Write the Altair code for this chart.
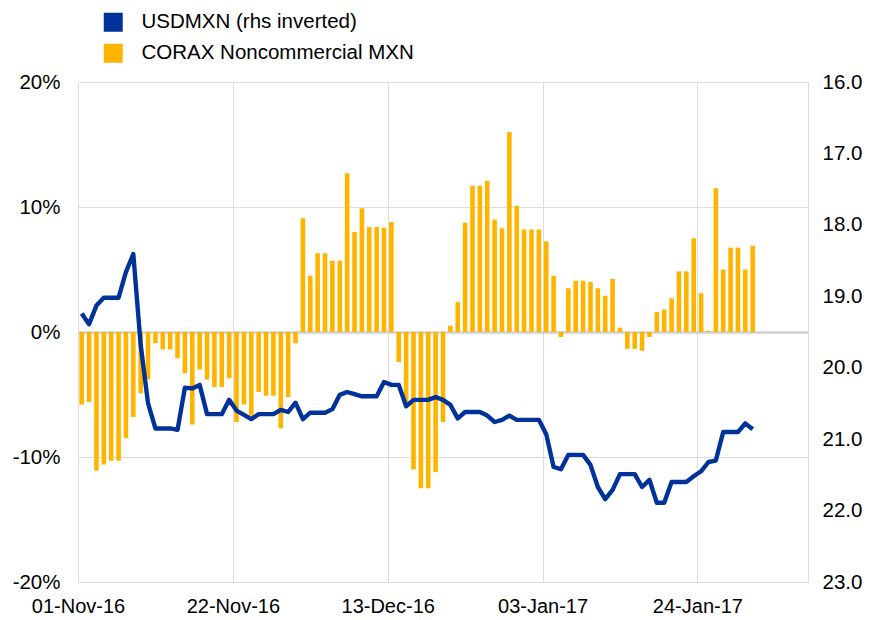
import altair as alt
import pandas as pd

# ---- data ----
start_date = "2016-11-01 12:00"
n_days = 92

corax = [-5.8, -5.6, -11.1, -10.6, -10.3, -10.3, -8.5, -6.8, -4.9, -3.8,
         -0.9, -1.4, -1.4, -2.1, -3.3, -7.4, -3.0, -3.8, -4.4, -4.4,
         -3.7, -7.2, -5.8, -6.7, -4.8, -5.1, -5.1, -7.7, -5.2, -0.9,
         9.1, 4.5, 6.3, 6.3, 5.7, 5.7, 12.7, 8.0, 9.9, 8.4,
         8.4, 8.35, 8.8, -2.4, -5.6, -11.0, -12.5, -12.5, -11.2, -7.2,
         0.5, 2.4, 8.75, 11.7, 11.7, 12.1, 9.0, 8.3, 16.0, 10.1,
         8.2, 8.2, 8.2, 7.25, 4.5, -0.4, 3.5, 4.1, 4.1, 4.0,
         3.5, 2.9, 4.25, 0.35, -1.35, -1.35, -1.5, -0.4, 1.6, 1.8,
         2.7, 4.85, 4.85, 7.5, 3.1, 0.1, 11.5, 5.0, 6.75, 6.75,
         5.0, 6.9]

usdmxn = [19.24, 19.39, 19.13, 19.02, 19.02, 19.02, 18.66, 18.41, 19.68, 20.50,
          20.85, 20.85, 20.85, 20.87, 20.28, 20.29, 20.24, 20.65, 20.65, 20.65,
          20.45, 20.60, 20.66, 20.72, 20.65, 20.65, 20.65, 20.59, 20.62, 20.49,
          20.72, 20.63, 20.63, 20.63, 20.58, 20.38, 20.34, 20.37, 20.40, 20.40,
          20.40, 20.20, 20.24, 20.24, 20.54, 20.45, 20.45, 20.45, 20.41, 20.45,
          20.52, 20.71, 20.62, 20.62, 20.62, 20.67, 20.76, 20.73, 20.67, 20.73,
          20.73, 20.73, 20.73, 20.93, 21.39, 21.42, 21.22, 21.22, 21.22, 21.36,
          21.67, 21.84, 21.71, 21.49, 21.49, 21.49, 21.67, 21.57, 21.89, 21.89,
          21.60, 21.60, 21.60, 21.52, 21.45, 21.32, 21.30, 20.90, 20.90, 20.90,
          20.78, 20.86]

series_names = ["USDMXN (rhs inverted)", "CORAX Noncommercial MXN"]
series_colors = ["#003299", "#FFB400"]

x_ticks = [(2016, 11, 1), (2016, 11, 22), (2016, 12, 13), (2017, 1, 3), (2017, 1, 24)]
x_domain = [(2016, 11, 1), (2017, 2, 8)]
left_ticks = [-20, -10, 0, 10, 20]
right_ticks = [16, 17, 18, 19, 20, 21, 22, 23]

FONT = "Liberation Sans"

dates = pd.date_range(start_date, periods=n_days, freq="D")
df = pd.DataFrame({
    "date": dates.strftime("%Y-%m-%dT%H:%M:%S"),
    "corax": corax,
    "usdmxn": usdmxn,
    "series": series_names[1],
})


def dt(t):
    return alt.DateTime(year=t[0], month=t[1], date=t[2])


x_enc = alt.X(
    "date:T",
    scale=alt.Scale(domain=[dt(d) for d in x_domain], padding=0),
    axis=alt.Axis(
        values=[dt(d) for d in x_ticks],
        format="%d-%b-%y",
        title=None,
        grid=True,
        gridColor="#dddddd",
        gridWidth=1,
        domain=False,
        ticks=False,
        tickSize=0,
        labelFont=FONT,
        labelFontSize=20,
        labelColor="#000000",
        labelPadding=14,
        labelFlush=False,
    ),
)

bars = alt.Chart(df).mark_bar(width=4.6).encode(
    x=x_enc,
    y=alt.Y(
        "corax:Q",
        scale=alt.Scale(domain=[-20, 20], nice=False),
        axis=alt.Axis(
            values=left_ticks,
            labelExpr="datum.value + '%'",
            title=None,
            orient="left",
            grid=True,
            gridColor={"condition": {"test": "datum.value === 0", "value": "#d0d0d0"}, "value": "#dddddd"},
            gridWidth={"condition": {"test": "datum.value === 0", "value": 2.5}, "value": 1},
            domain=False,
            ticks=False,
            tickSize=0,
            labelFont=FONT,
            labelFontSize=20.5,
            labelColor="#000000",
            labelPadding=18,
        ),
    ),
    color=alt.Color(
        "series:N",
        scale=alt.Scale(domain=series_names, range=series_colors),
        legend=alt.Legend(
            title=None,
            orient="none",
            legendX=25,
            legendY=-70,
            symbolType="square",
            symbolSize=361,
            symbolStrokeWidth=0,
            labelFont=FONT,
            labelFontSize=20.5,
            labelColor="#000000",
            labelOffset=18,
            labelLimit=0,
            rowPadding=10,
            padding=0,
        ),
    ),
)

line = alt.Chart(df).mark_line(strokeWidth=4.4, color=series_colors[0], strokeJoin="round").encode(
    x=alt.X("date:T"),
    y=alt.Y(
        "usdmxn:Q",
        scale=alt.Scale(domain=[16, 23], reverse=True, nice=False),
        axis=alt.Axis(
            values=right_ticks,
            format=".1f",
            title=None,
            orient="right",
            grid=False,
            domain=False,
            ticks=False,
            tickSize=0,
            labelFont=FONT,
            labelFontSize=20.5,
            labelColor="#000000",
            labelPadding=14,
        ),
    ),
)

chart = alt.layer(bars, line).resolve_scale(y="independent").properties(
    width=730,
    height=500,
    autosize="none",
    padding={"left": 70, "top": 74, "right": 55, "bottom": 36},
).configure_view(stroke="#d9d9d9", strokeWidth=1.5).configure(background="#ffffff")

chart.save("out.html", embed_options={"renderer": "svg", "actions": False})
